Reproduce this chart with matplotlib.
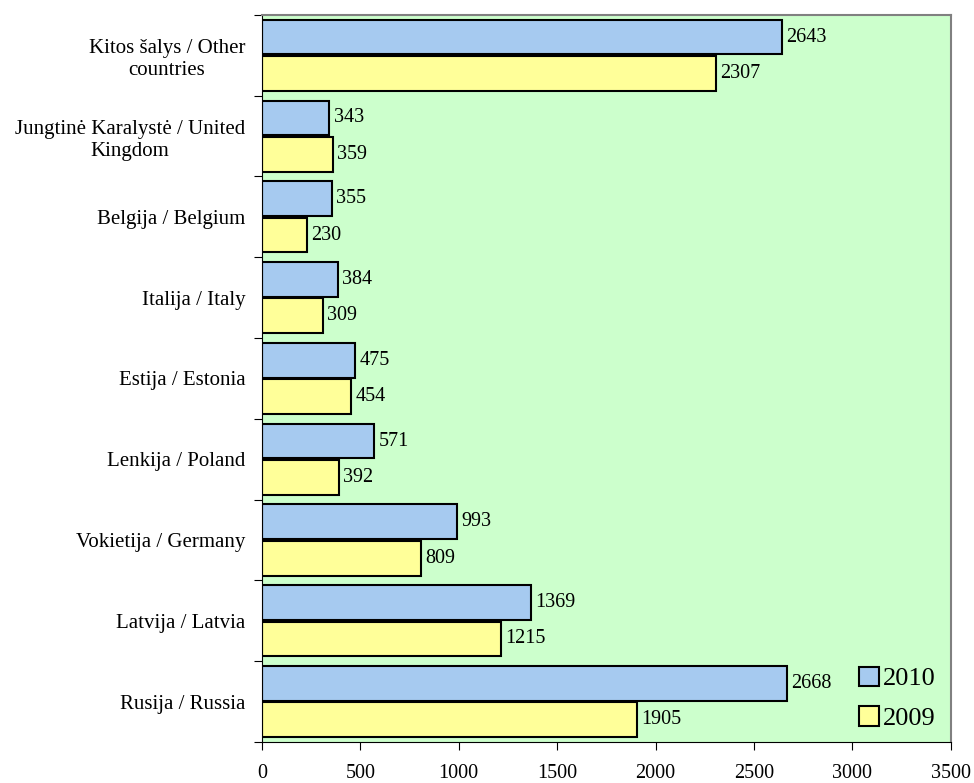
import matplotlib.pyplot as plt
import numpy as np
from matplotlib.patches import Patch

plt.rcParams['font.family'] = ['Liberation Serif', 'DejaVu Serif']

countries = ["Rusija / Russia", "Latvija / Latvia", "Vokietija / Germany",
             "Lenkija / Poland", "Estija / Estonia", "Italija / Italy",
             "Belgija / Belgium", "Jungtinė Karalystė / United\nKingdom",
             "Kitos šalys / Other\ncountries"]
v2010 = [2668, 1369, 993, 571, 475, 384, 355, 343, 2643]
v2009 = [1905, 1215, 809, 392, 454, 309, 230, 359, 2307]

c2010 = "#a6caf0"
c2009 = "#ffff99"

fig = plt.figure(figsize=(9.74, 7.83), dpi=100)
ax = fig.add_axes([0.269, 0.0524, 0.707, 0.9286])
ax.set_facecolor("#ccffcc")

y = np.arange(len(countries))
h = 0.43
ax.barh(y + 0.225, v2010, height=h, color=c2010, edgecolor="black", linewidth=1.5)
ax.barh(y - 0.225, v2009, height=h, color=c2009, edgecolor="black", linewidth=1.5)

for i in range(len(countries)):
    ax.text(v2010[i] + 22, y[i] + 0.225, str(v2010[i]), va="center", ha="left", fontsize=14.5)
    ax.text(v2009[i] + 22, y[i] - 0.225, str(v2009[i]), va="center", ha="left", fontsize=14.5)

ax.set_xlim(0, 3500)
ax.set_ylim(-0.5, len(countries) - 0.5)
ax.set_xticks(np.arange(0, 3501, 500))
ax.tick_params(axis="x", labelsize=14.5, direction="out", length=6, pad=10)

ax.set_yticks(np.arange(-0.5, len(countries), 1))
ax.set_yticklabels([])
ax.set_yticks(y, minor=True)
ax.set_yticklabels(countries, minor=True, fontsize=15, ha="right", linespacing=1.25)
ax.tick_params(axis="y", which="major", direction="out", length=6)
ax.tick_params(axis="y", which="minor", length=0, pad=12)
for t in ax.get_yticklabels(minor=True):
    t.set_multialignment("center")

ax.spines["left"].set_color("black")
ax.spines["bottom"].set_color("black")
ax.spines["top"].set_color("#808080")
ax.spines["right"].set_color("#808080")
ax.spines["top"].set_linewidth(1.5)
ax.spines["right"].set_linewidth(1.5)

handles = [Patch(facecolor=c2010, edgecolor="black", linewidth=1.5, label="2010"),
           Patch(facecolor=c2009, edgecolor="black", linewidth=1.5, label="2009")]
ax.legend(handles=handles, loc="lower right", frameon=False, fontsize=19,
          handlelength=0.75, handleheight=0.75, handletextpad=0.15, labelspacing=0.6,
          borderaxespad=0.05, bbox_to_anchor=(0.995, 0.0))

fig.savefig("out.png", dpi=100)
